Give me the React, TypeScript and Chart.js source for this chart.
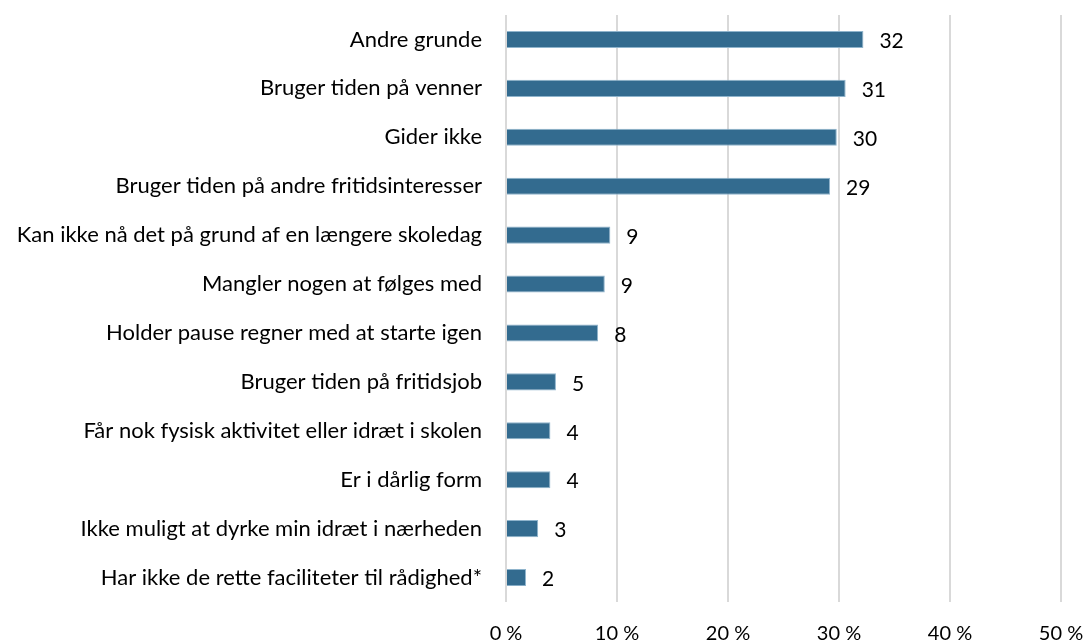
import React, { useEffect, useRef } from "react";
import { Chart, registerables } from "chart.js";

Chart.register(...registerables);

const categories = [
  "Andre grunde",
  "Bruger tiden på venner",
  "Gider ikke",
  "Bruger tiden på andre fritidsinteresser",
  "Kan ikke nå det på grund af en længere skoledag",
  "Mangler nogen at følges med",
  "Holder pause regner med at starte igen",
  "Bruger tiden på fritidsjob",
  "Får nok fysisk aktivitet eller idræt i skolen",
  "Er i dårlig form",
  "Ikke muligt at dyrke min idræt i nærheden",
  "Har ikke de rette faciliteter til rådighed*",
];
const values = [32.2, 30.6, 29.8, 29.2, 9.4, 8.9, 8.3, 4.5, 4.0, 4.0, 2.9, 1.8];
const valueLabels = ["32", "31", "30", "29", "9", "9", "8", "5", "4", "4", "3", "2"];
const xTicks = [0, 10, 20, 30, 40, 50];

const FONT = "Lato, sans-serif";

export default function App() {
  const ref = useRef<HTMLCanvasElement>(null);
  useEffect(() => {
    if (!ref.current) return;
    const labelPlugin = {
      id: "valLabels",
      afterDatasetsDraw(chart: any) {
        const ctx = chart.ctx;
        const meta = chart.getDatasetMeta(0);
        ctx.save();
        ctx.font = `21px ${FONT}`;
        ctx.fillStyle = "#000";
        ctx.textAlign = "left";
        ctx.textBaseline = "middle";
        meta.data.forEach((bar: any, i: number) => {
          ctx.fillText(valueLabels[i], bar.x + 16, bar.y + 2);
        });
        ctx.restore();
      },
    };
    const chart = new Chart(ref.current, {
      type: "bar",
      data: {
        labels: categories,
        datasets: [
          {
            data: values,
            backgroundColor: "#336b8f",
            borderColor: "#8fb4cc",
            borderWidth: 1,
            barPercentage: 0.7,
            categoryPercentage: 0.5,
          },
        ],
      },
      options: {
        indexAxis: "y",
        animation: false,
        responsive: false,
        maintainAspectRatio: false,
        layout: { padding: { top: 15, right: 26, left: 0, bottom: 0 } },
        plugins: { legend: { display: false }, tooltip: { enabled: false } },
        scales: {
          x: {
            min: 0,
            max: 50,
            afterFit: (s: any) => {
              s.height = 42;
              s.paddingLeft = 0;
              s.paddingRight = 0;
            },
            afterBuildTicks: (s: any) => {
              s.ticks = xTicks.map((v) => ({ value: v }));
            },
            grid: { color: "#d9d9d9", lineWidth: 2, drawTicks: false },
            border: { display: false },
            ticks: {
              padding: 20,
              color: "#000",
              font: { family: FONT, size: 20 },
              callback: (v: any) => `${v} %`,
            },
          },
          y: {
            afterFit: (s: any) => {
              s.width = 506;
              s.paddingTop = 0;
              s.paddingBottom = 0;
            },
            grid: { display: false, drawTicks: false },
            border: { display: false },
            ticks: {
              padding: 24,
              color: "#000",
              font: { family: FONT, size: 22 },
            },
          },
        },
      },
      plugins: [labelPlugin],
    });
    return () => chart.destroy();
  }, []);
  return (
    <div style={{ position: "fixed", left: 0, top: 0, width: 1087, height: 644, background: "#fff" }}>
      <canvas ref={ref} width={1087} height={644} style={{ width: 1087, height: 644 }} />
    </div>
  );
}
